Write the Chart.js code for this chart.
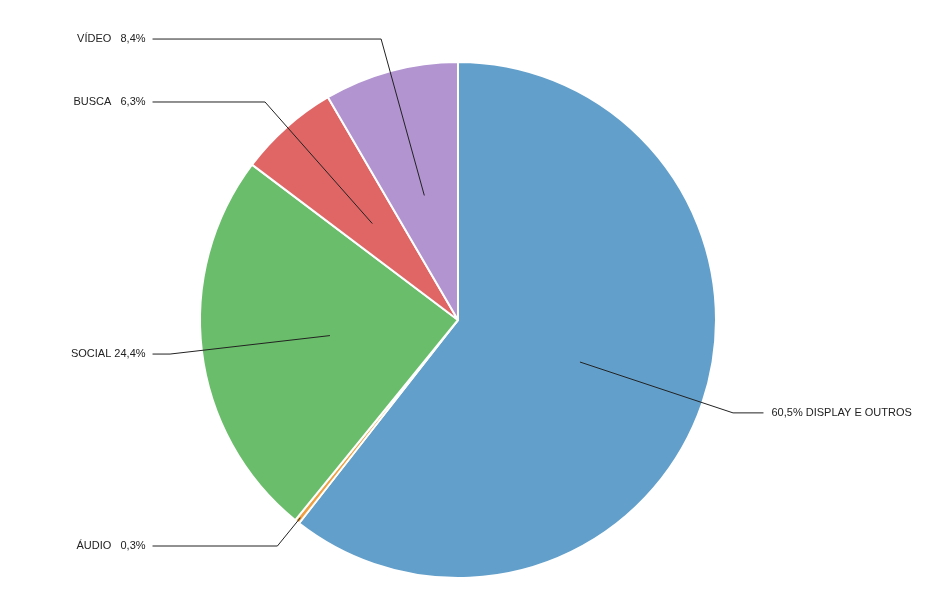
<!DOCTYPE html>
<html lang="pt">
<head>
    <meta charset="UTF-8">
    <title>Pie Chart</title>
    <script src="https://cdn.jsdelivr.net/npm/chart.js"></script>
    <style>
        body { margin: 0; background: #fff; }
        #wrap { width: 950px; height: 590px; }
    </style>
</head>
<body>
    <div id="wrap"><canvas id="Chart1"></canvas></div>

    <script>
        const categories = ['DISPLAY E OUTROS', 'ÁUDIO', 'SOCIAL', 'BUSCA', 'VÍDEO'];
        const values = [60.5, 0.3, 24.4, 6.3, 8.4];
        const valueLabels = ['60,5%', '0,3%', '24,4%', '6,3%', '8,4%'];
        const colors = ['#629fca', '#f0a040', '#6abd6a', '#e06666', '#b294d0'];

        // label text per slice
        const labelText = [
            valueLabels[0] + ' ' + categories[0],
            categories[1] + '   ' + valueLabels[1],
            categories[2] + ' ' + valueLabels[2],
            categories[3] + '   ' + valueLabels[3],
            categories[4] + '   ' + valueLabels[4]
        ];

        // leader line layout, in units of the pie radius
        // anchor = how far inside the slice the line starts
        // elbow = where the line bends, relative to the pie centre
        const leaders = [
            { anchor: 0.5, elbow: [1.066, 0.36], side: 1 },
            { anchor: 0.98, elbow: [-0.70, 0.876], side: -1 },
            { anchor: 0.5, elbow: [-1.116, 0.132], side: -1 },
            { anchor: 0.5, elbow: [-0.748, -0.845], side: -1 },
            { anchor: 0.5, elbow: [-0.298, -1.089], side: -1 }
        ];

        const leaderPlugin = {
            id: 'leaders',
            afterDatasetsDraw(chart) {
                const ctx = chart.ctx;
                const arcs = chart.getDatasetMeta(0).data;
                ctx.save();
                ctx.font = '11px "Liberation Sans", Arial, sans-serif';
                ctx.textBaseline = 'middle';
                arcs.forEach((arc, i) => {
                    const L = leaders[i];
                    const R = arc.outerRadius;
                    const mid = (arc.startAngle + arc.endAngle) / 2;
                    const ax = arc.x + Math.cos(mid) * R * L.anchor;
                    const ay = arc.y + Math.sin(mid) * R * L.anchor;
                    const ex = arc.x + L.elbow[0] * R;
                    const ey = arc.y + L.elbow[1] * R;
                    const endX = arc.x + L.side * 1.184 * R;

                    ctx.strokeStyle = '#222';
                    ctx.lineWidth = 1;
                    ctx.beginPath();
                    ctx.moveTo(ax, ay);
                    ctx.lineTo(ex, ey);
                    ctx.lineTo(endX, ey);
                    ctx.stroke();

                    ctx.fillStyle = '#222';
                    if (L.side > 0) {
                        ctx.textAlign = 'left';
                        ctx.fillText(labelText[i], endX + 8, ey);
                    } else {
                        ctx.textAlign = 'right';
                        ctx.fillText(labelText[i], endX - 7, ey);
                    }
                });
                ctx.restore();
            }
        };

        const ctx2 = document.getElementById('Chart1').getContext('2d');

        const chart = new Chart(ctx2, {
            type: 'pie',
            data: {
                labels: categories,
                datasets: [{
                    data: values,
                    backgroundColor: colors,
                    borderColor: '#ffffff',
                    borderWidth: 2
                }]
            },
            options: {
                responsive: true,
                maintainAspectRatio: false,
                animation: false,
                radius: 258,
                layout: {
                    padding: { left: 200, right: 234, top: 62, bottom: 12 }
                },
                plugins: {
                    legend: { display: false },
                    tooltip: { enabled: false }
                }
            },
            plugins: [leaderPlugin]
        });
    </script>
</body>
</html>
